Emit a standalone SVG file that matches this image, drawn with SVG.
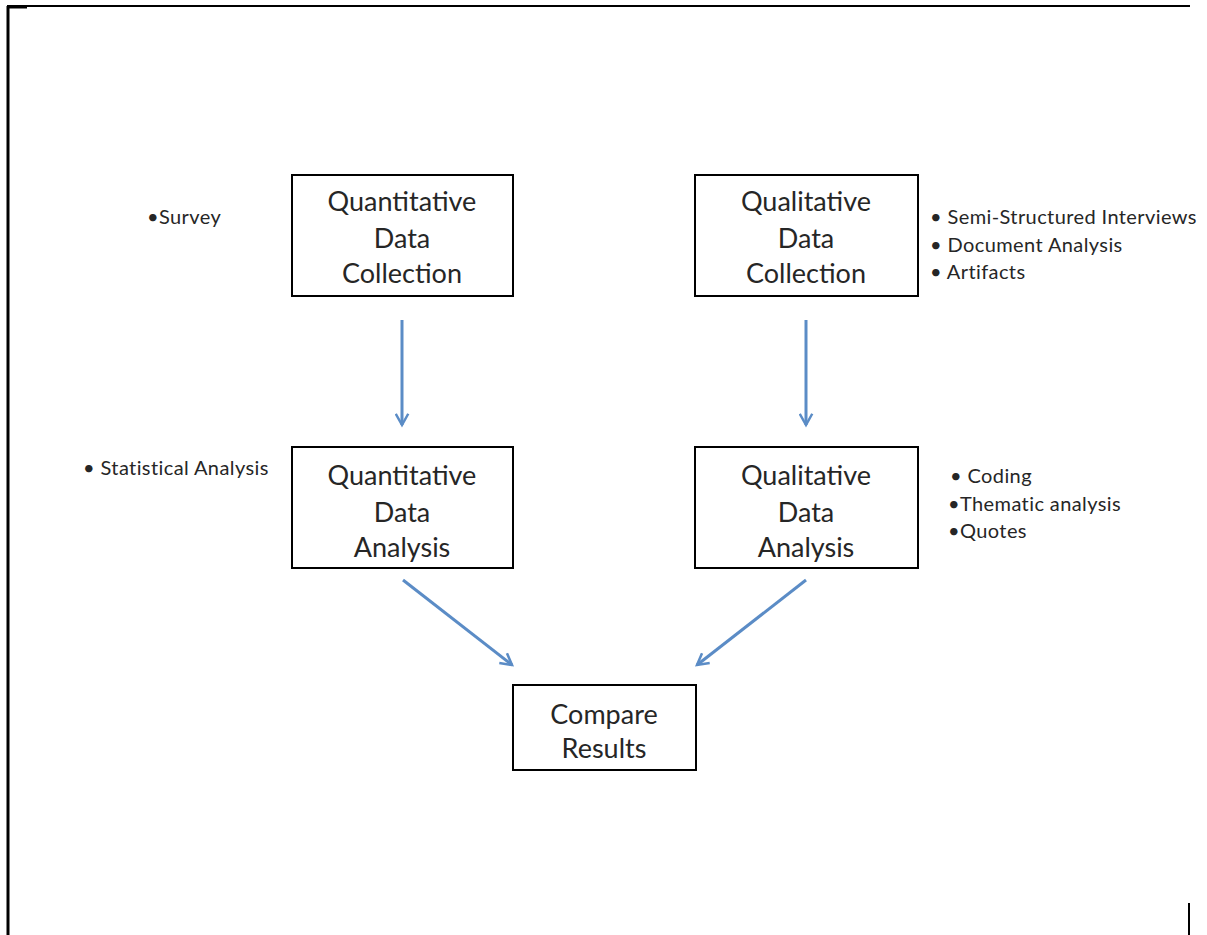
<svg xmlns="http://www.w3.org/2000/svg" width="1207" height="935" viewBox="0 0 1207 935">
<style>
.box{fill:#fff;stroke:#000;stroke-width:2}
.t{font-family:Lato,"Liberation Sans",sans-serif;font-size:27px;fill:#262626;text-anchor:middle}
.s{font-family:Lato,"Liberation Sans",sans-serif;font-size:20px;letter-spacing:0.4px;fill:#262626}
.c{stroke:#5b8cc6;stroke-width:3;fill:none}
</style>
<defs>
<marker id="ah" viewBox="0 0 12 12" refX="10" refY="6" markerWidth="5" markerHeight="5" orient="auto" markerUnits="strokeWidth">
<path d="M1,1 L10,6 L1,11" fill="none" stroke="#5b8cc6" stroke-width="2"/>
</marker>
</defs>
<rect width="1207" height="935" fill="#fff"/>
<g id="frame">
<line x1="7" y1="6" x2="1190" y2="6" stroke="#000" stroke-width="2"/>
<line x1="7" y1="7" x2="27" y2="7" stroke="#000" stroke-width="3"/>
<line x1="8" y1="6" x2="8" y2="935" stroke="#000" stroke-width="3"/>
<line x1="1189" y1="903" x2="1189" y2="935" stroke="#000" stroke-width="2"/>
</g>
<g id="connectors">
<line class="c" x1="402" y1="320" x2="402" y2="425" marker-end="url(#ah)"/>
<line class="c" x1="806" y1="320" x2="806" y2="425" marker-end="url(#ah)"/>
<line class="c" x1="403" y1="580" x2="512" y2="665" marker-end="url(#ah)"/>
<line class="c" x1="806" y1="580" x2="697" y2="665" marker-end="url(#ah)"/>
</g>
<g id="quant-collection">
<rect class="box" x="292" y="175" width="221" height="121"/>
<text class="t" x="402" y="211">Quantitative</text>
<text class="t" x="402" y="248">Data</text>
<text class="t" x="402" y="283">Collection</text>
<text class="s" x="147" y="224">•Survey</text>
</g>
<g id="qual-collection">
<rect class="box" x="695" y="175" width="223" height="121"/>
<text class="t" x="806" y="211">Qualitative</text>
<text class="t" x="806" y="248">Data</text>
<text class="t" x="806" y="283">Collection</text>
<text class="s" x="930" y="224">• Semi-Structured Interviews</text>
<text class="s" x="930" y="252">• Document Analysis</text>
<text class="s" x="930" y="279">• Artifacts</text>
</g>
<g id="quant-analysis">
<rect class="box" x="292" y="447" width="221" height="121"/>
<text class="t" x="402" y="485">Quantitative</text>
<text class="t" x="402" y="522">Data</text>
<text class="t" x="402" y="557">Analysis</text>
<text class="s" x="83" y="475">•  Statistical Analysis</text>
</g>
<g id="qual-analysis">
<rect class="box" x="695" y="447" width="223" height="121"/>
<text class="t" x="806" y="485">Qualitative</text>
<text class="t" x="806" y="522">Data</text>
<text class="t" x="806" y="557">Analysis</text>
<text class="s" x="950" y="483">• Coding</text>
<text class="s" x="948" y="511">•Thematic analysis</text>
<text class="s" x="948" y="538">•Quotes</text>
</g>
<g id="compare">
<rect class="box" x="513" y="685" width="183" height="85"/>
<text class="t" x="604" y="724">Compare</text>
<text class="t" x="604" y="758">Results</text>
</g>
</svg>
